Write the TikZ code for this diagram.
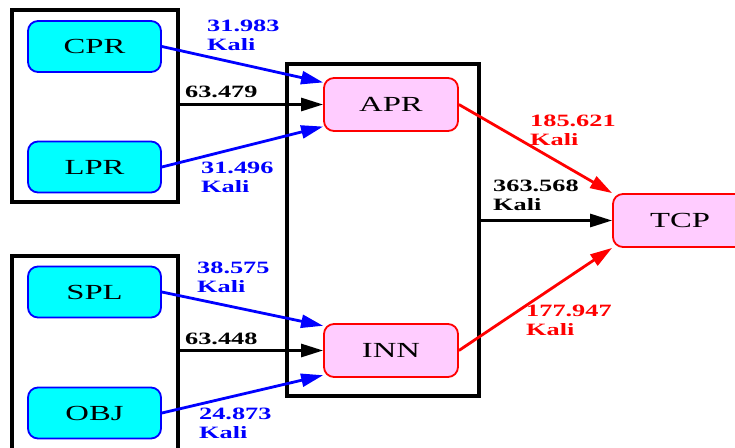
\documentclass[tikz,border=0pt]{standalone}
\usepackage{fontspec}
\setmainfont{Liberation Serif}[FakeStretch=1.52]
\usetikzlibrary{arrows.meta}
\definecolor{cfill}{RGB}{0,255,255}
\definecolor{pfill}{RGB}{255,204,255}

\begin{document}
\begin{tikzpicture}[
        x=1pt, y=-1pt,
        clus/.style={rectangle, draw, line width=4pt, inner sep=0pt},
        src/.style={rectangle, draw=blue, line width=1.8pt, rounded corners=10pt, fill=cfill, inner sep=0pt, minimum width=133pt, minimum height=51pt, font=\fontsize{21.5}{24}\selectfont},
        dst/.style={rectangle, draw=red, line width=1.8pt, rounded corners=10pt, fill=pfill, inner sep=0pt, minimum width=134pt, minimum height=53pt, font=\fontsize{21.5}{24}\selectfont},
        lbl/.style={anchor=north west, inner sep=0pt, align=left, font=\fontsize{17.3}{19}\selectfont\bfseries},
        flow/.style={line width=2.8pt, -{Triangle[length=22pt, width=13pt]}},
    ]
        \useasboundingbox (0,0) rectangle (735,447);

        % Cluster frames
        \node[clus, minimum width=166pt, minimum height=192pt] (C1) at (95, 106) {};
        \node[clus, minimum width=166pt, minimum height=200pt] (C2) at (95, 356) {};
        \node[clus, minimum width=192pt, minimum height=332pt] (C3) at (383, 230) {};

        % Inputs
        \node[src] (CPR) at (94.5, 46.5) {CPR};
        \node[src] (LPR) at (94.5, 167) {LPR};
        \node[src] (SPL) at (94.5, 292) {SPL};
        \node[src] (OBJ) at (94.5, 413) {OBJ};

        % Aggregates
        \node[dst] (APR) at (391, 104.5) {APR};
        \node[dst] (INN) at (391, 350.5) {INN};
        \node[dst] (TCP) at (680, 220.5) {TCP};

        % Connectors
        \draw[flow, blue] (CPR.east) -- (APR.162);
        \draw[flow, blue] (LPR.east) -- (APR.198);
        \draw[flow] (C1.east |- APR.west) -- (APR.west);
        \draw[flow, blue] (SPL.east) -- (INN.160);
        \draw[flow, blue] (OBJ.east) -- (INN.200);
        \draw[flow] (C2.east |- INN.west) -- (INN.west);
        \draw[flow, red] (APR.east) -- (TCP.north west);
        \draw[flow, red] (INN.east) -- (TCP.south west);
        \draw[flow] (C3.east |- TCP.west) -- (TCP.west);

        % Values
        \node[lbl, text=blue] (lCPR) at (207, 20) {31.983\\Kali};
        \node[lbl, text=blue] (lLPR) at (201, 162) {31.496\\Kali};
        \node[lbl] (lC1) at (185, 86) {63.479};
        \node[lbl, text=blue] (lSPL) at (197, 262) {38.575\\Kali};
        \node[lbl, text=blue] (lOBJ) at (199, 408) {24.873\\Kali};
        \node[lbl] (lC2) at (185, 333) {63.448};
        \node[lbl, text=red] (lAPR) at (530, 115) {185.621\\Kali};
        \node[lbl, text=red] (lINN) at (526, 305) {177.947\\Kali};
        \node[lbl] (lC3) at (493, 180) {363.568\\Kali};
    \end{tikzpicture}
\end{document}
